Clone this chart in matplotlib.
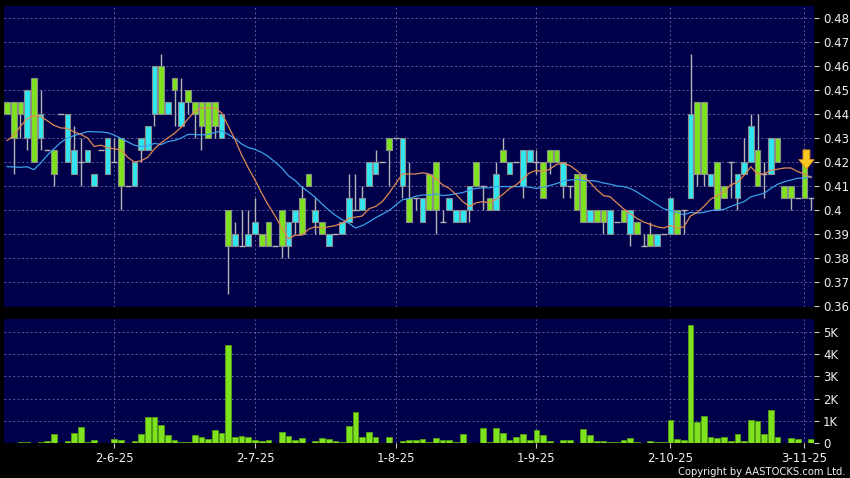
import matplotlib
matplotlib.use('Agg')
import matplotlib.pyplot as plt
import numpy as np
import pandas as pd

# daily candles, oldest first (cyan = close above open, green = close below open)
opens = [
    .445, .445, .445, .43, .455, .43, .425, .425, .44, .42,
    .415, .42, .42, .41, .425, .415, .42, .43, .41, .41,
    .425, .425, .44, .46, .44, .455, .435, .45, .445, .445,
    .445, .445, .43, .40, .385, .385, .385, .39, .39, .395,
    .385, .40, .385, .395, .405, .415, .395, .395, .385, .39,
    .39, .395, .40, .40, .41, .415, .42, .43, .43, .41,
    .405, .405, .395, .415, .42, .395, .40, .395, .395, .40,
    .42, .41, .405, .40, .425, .415, .42, .41, .42, .42,
    .42, .425, .425, .41, .41, .415, .415, .395, .40, .40,
    .39, .395, .40, .39, .395, .385, .39, .385, .39, .39,
    .40, .40, .405, .445, .445, .41, .42, .41, .42, .405,
    .415, .42, .425, .415, .415, .43, .41, .41, .405, .42,
    .405]
closes = [
    .44, .43, .44, .45, .42, .44, .425, .415, .44, .44,
    .425, .42, .425, .415, .425, .43, .42, .41, .41, .42,
    .43, .435, .46, .44, .445, .45, .445, .445, .44, .435,
    .43, .435, .44, .385, .39, .385, .39, .395, .385, .385,
    .385, .385, .395, .40, .39, .41, .40, .39, .39, .39,
    .395, .405, .40, .405, .42, .42, .42, .425, .43, .43,
    .395, .405, .405, .40, .40, .395, .405, .40, .40, .41,
    .41, .41, .40, .415, .42, .42, .42, .425, .425, .42,
    .405, .42, .42, .42, .41, .40, .395, .40, .395, .395,
    .40, .395, .395, .40, .39, .385, .385, .39, .39, .405,
    .39, .40, .44, .415, .415, .415, .40, .405, .42, .415,
    .42, .435, .41, .415, .43, .42, .405, .405, .405, .405,
    .405]
highs = [
    .445, .445, .445, .45, .455, .45, .425, .425, .44, .44,
    .435, .43, .425, .415, .425, .43, .43, .43, .41, .42,
    .43, .435, .46, .465, .445, .455, .455, .45, .445, .445,
    .445, .445, .44, .40, .395, .40, .40, .405, .39, .395,
    .385, .40, .395, .40, .41, .415, .405, .395, .39, .39,
    .395, .415, .415, .41, .42, .425, .42, .43, .43, .43,
    .42, .405, .405, .415, .42, .40, .405, .40, .40, .41,
    .42, .41, .405, .42, .43, .42, .42, .425, .425, .425,
    .42, .425, .425, .42, .41, .415, .415, .40, .40, .40,
    .40, .395, .40, .40, .395, .39, .395, .39, .39, .405,
    .40, .40, .465, .445, .445, .415, .42, .41, .42, .415,
    .43, .44, .44, .42, .43, .43, .41, .41, .405, .42,
    .405]
lows = [
    .44, .415, .43, .425, .42, .425, .425, .41, .44, .42,
    .415, .41, .42, .41, .425, .415, .42, .40, .41, .41,
    .42, .425, .435, .44, .44, .435, .435, .44, .43, .425,
    .43, .43, .43, .365, .385, .385, .385, .39, .385, .385,
    .385, .38, .38, .39, .39, .41, .39, .39, .385, .39,
    .39, .395, .40, .40, .41, .415, .42, .41, .43, .405,
    .395, .40, .395, .40, .39, .395, .40, .395, .395, .395,
    .41, .40, .40, .40, .42, .415, .42, .405, .42, .415,
    .405, .415, .42, .405, .405, .40, .395, .395, .395, .39,
    .39, .395, .395, .385, .39, .385, .385, .385, .39, .39,
    .39, .39, .405, .41, .41, .41, .40, .405, .405, .40,
    .415, .42, .41, .405, .415, .42, .405, .40, .405, .405,
    .40]
# volume in thousands
volume = [
    .01, .01, .04, .04, .03, .04, .12, .40, 0, .09,
    .45, .73, .04, .15, .03, .03, .21, .13, 0, .09,
    .42, 1.16, 1.16, .81, .36, .15, .07, .06, .39, .27,
    .19, .60, .45, 4.39, .28, .33, .27, .13, .10, .13,
    0, .52, .31, .16, .22, .03, .12, .24, .19, .09,
    .04, .78, 1.42, .30, .49, .28, 0, .27, 0, .09,
    .13, .13, .18, .04, .24, .16, .13, .06, .40, 0,
    0, .69, .04, .70, .47, .14, .30, .42, .14, .60,
    .37, .10, 0, .16, .14, 0, .65, .38, .10, .10,
    .08, .05, .15, .24, .06, 0, .10, .05, .05, 1.05,
    .20, .15, 5.30, .95, 1.22, .30, .25, .30, .10, .40,
    .10, 1.05, 1.00, .42, 1.48, .30, 0, .25, .18, 0,
    .18]
ma10_head = [.4289, .4311, .4349, .4381, .4392, .4390, .4372, .4353, .4342]
ma20_head = [.4181, .4179, .4178, .4180, .4168, .4195, .4228, .4255, .4281, .4300,
             .4310, .4318, .4327, .4326, .4325, .4322, .4312, .4298, .4284]

date_pos = [16, 37, 58, 79, 99, 119]
date_labels = ['2-6-25', '2-7-25', '1-8-25', '1-9-25', '2-10-25', '3-11-25']
price_ticks = [.36, .37, .38, .39, .40, .41, .42, .43, .44, .45, .46, .47, .48]
vol_ticks = [0, 1, 2, 3, 4, 5]
arrow_top, arrow_tip = 0.4262, 0.4158

NAVY = '#00004a'
GREEN = '#7ee21e'
CYAN = '#30e6f0'
GRID = '#5c5c96'

o = np.array(opens)
c = np.array(closes)
x = np.arange(len(o))
ma10 = pd.Series(c).rolling(10).mean().to_numpy()
ma10[:9] = ma10_head
ma20 = pd.Series(c).rolling(20).mean().to_numpy()
ma20[:19] = ma20_head

W, H = 850, 478
fig = plt.figure(figsize=(8.5, 4.78), dpi=100, facecolor='black')
ax1 = fig.add_axes([4 / W, 1 - 307 / H, 810 / W, 301 / H])
ax2 = fig.add_axes([4 / W, 1 - 443.3 / H, 810 / W, 124 / H])

for ax in (ax1, ax2):
    ax.set_facecolor(NAVY)
    for s in ax.spines.values():
        s.set_visible(False)
    ax.set_xlim(-0.46, 120.43)
    ax.yaxis.tick_right()
    ax.tick_params(axis='y', colors='#c8c8c8', labelcolor='#f0f0f0', length=3.5,
                   width=0.8, pad=3, labelsize=8.5)
    ax.set_xticks(date_pos)
    for p in date_pos:
        ax.axvline(p, color=GRID, lw=0.7, ls=(0, (2, 2.5)), zorder=0)

# price panel
ax1.set_ylim(0.35958, 0.485)
ax1.set_yticks(price_ticks)
ax1.set_yticklabels(['%.2f' % v if v != .40 else '0.4' for v in price_ticks])
for v in price_ticks[1:]:
    ax1.axhline(v, color=GRID, lw=0.7, ls=(0, (2, 2.5)), zorder=0)
ax1.tick_params(axis='x', length=0, labelbottom=False)

ax1.vlines(x, lows, highs, color='#b4b4b4', lw=1, zorder=2)
flat = o == c
body_col = np.where(c > o, CYAN, GREEN)
ax1.bar(x[~flat], np.abs(c - o)[~flat], bottom=np.minimum(o, c)[~flat], width=0.86,
        color=body_col[~flat], edgecolor='#8c8c8c', linewidth=0.8, zorder=3)
ax1.hlines(o[flat], x[flat] - 0.45, x[flat] + 0.45, color='#b4b4b4', lw=1, zorder=3)

ax1.plot(x, ma20, color='#3ca2e8', lw=0.9, zorder=4)
ax1.plot(x, ma10, color='#e08a52', lw=0.9, zorder=5)

ax1.annotate('', xy=(date_pos[-1] + 0.3, arrow_tip), xytext=(date_pos[-1] + 0.3, arrow_top),
             arrowprops=dict(arrowstyle='simple,head_width=1.1,head_length=0.7,tail_width=0.5',
                             fc='#f8c822', ec='#d88a10', lw=0.6), zorder=6)

# volume panel
ax2.set_ylim(0, 5.546)
ax2.set_yticks(vol_ticks)
ax2.set_yticklabels(['0'] + ['%dK' % v for v in vol_ticks[1:]])
for v in vol_ticks[1:]:
    ax2.axhline(v, color=GRID, lw=0.7, ls=(0, (2, 2.5)), zorder=0)
ax2.bar(x, volume, width=0.86, color=GREEN, edgecolor='#55a012', linewidth=0.6, zorder=3)
ax2.set_xticklabels(date_labels)
ax2.tick_params(axis='x', colors='#c8c8c8', labelcolor='#f0f0f0', length=3.5, width=0.8,
                pad=3, labelsize=8.5)

fig.text(846 / W, 1 - 471.7 / H, 'Copyright by AASTOCKS.com Ltd.', ha='right', va='center',
         color='#f0f0f0', fontsize=8, fontstretch='condensed')

fig.savefig('out.png', dpi=100, facecolor='black')
